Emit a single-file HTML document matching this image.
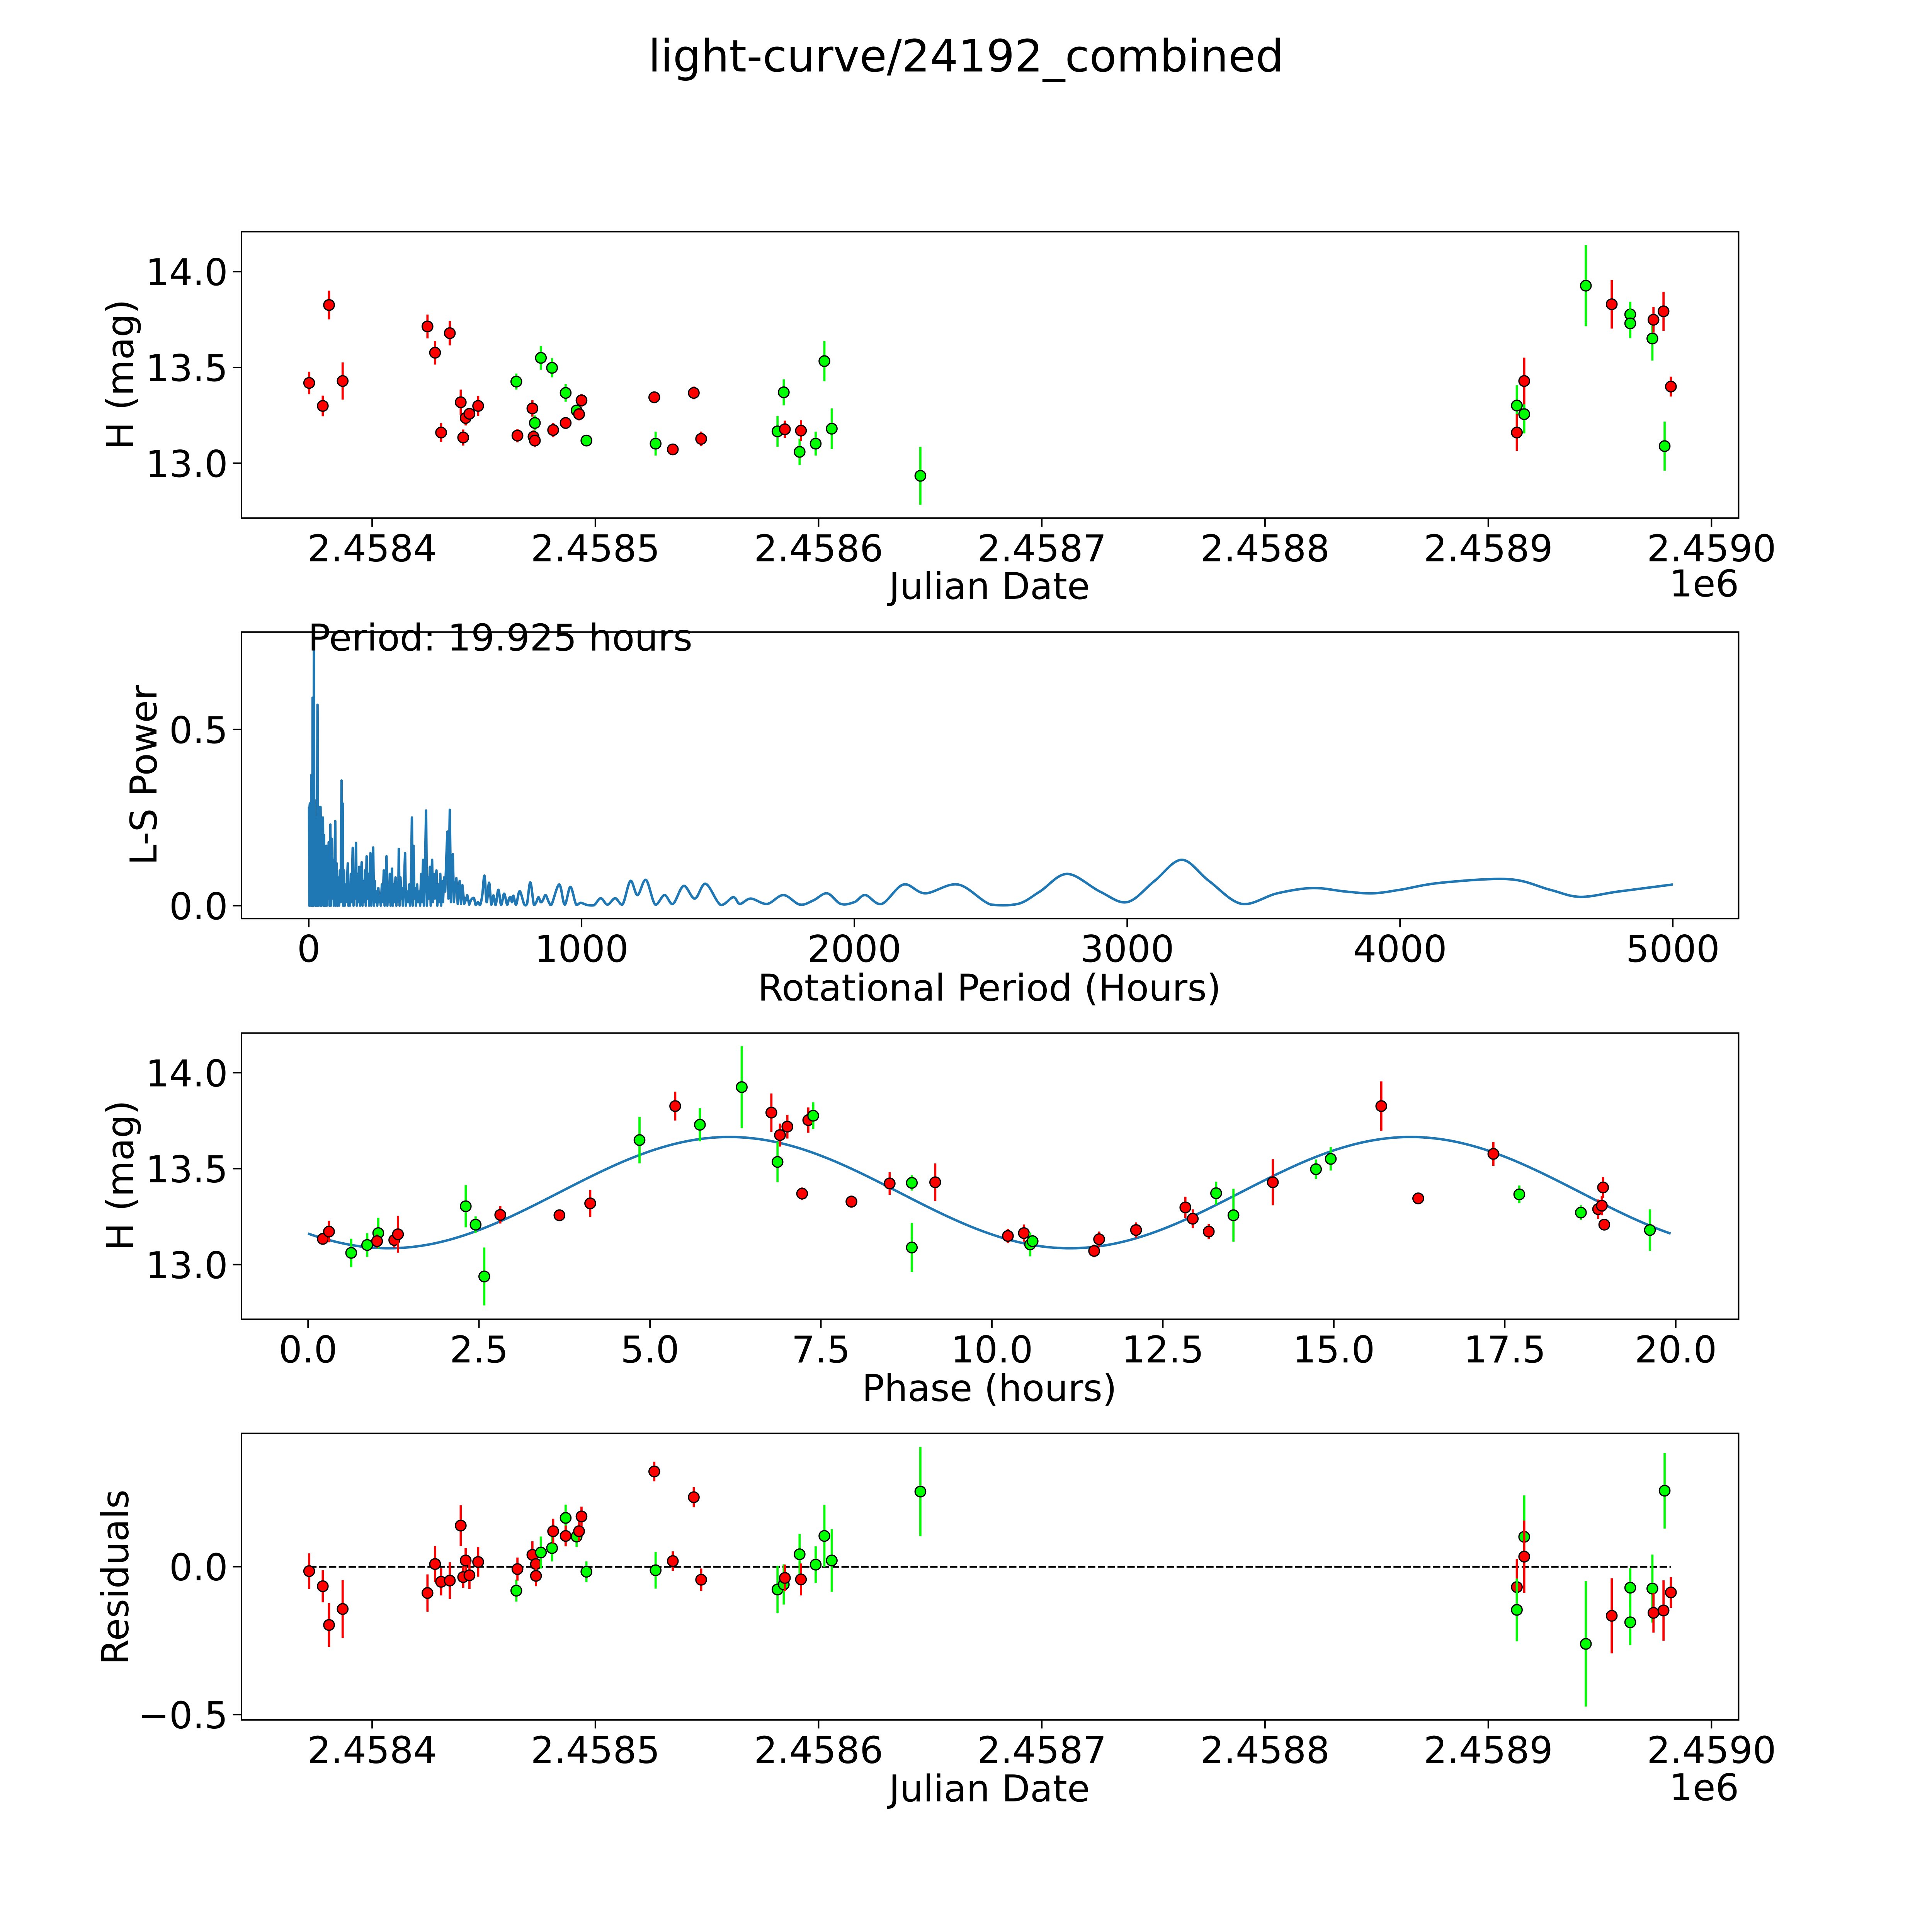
<!DOCTYPE html>
<html><head><meta charset="utf-8"><style>
html,body{margin:0;padding:0;background:#fff;overflow:hidden;width:5400px;height:5400px;}
svg{display:block;font-family:"DejaVu Sans","Liberation Sans",sans-serif;}
</style></head><body>
<svg id="fig" xmlns="http://www.w3.org/2000/svg" width="5400" height="5400" style="width:5400px;height:5400px" viewBox="0 0 1693.4 1693.4">
<rect x="0" y="0" width="1693.4" height="1693.4" fill="#fff"/>
<text x="784" y="58" font-size="36" text-anchor="middle">light-curve/24192_combined</text>
<g id="g1"></g>
<g id="g2"></g>
<g id="g3"></g>
<g id="g4"></g>
</svg>
<script>
// ---------- Panel 1: light curve (days since JD 2458400) ----------
const lcDays=[-28.2,-22.1,-19.3,-13.2,24.8,28.2,30.9,34.8,39.7,40.8,41.9,43.6,47.5,64.6,65.1,71.8,72.9,72.3,72.9,75.6,80.6,81.1,86.7,86.7,91.6,92.7,93.8,96.0,126.4,127.0,134.7,144.1,147.4,181.6,184.4,184.9,191.5,192.1,198.7,202.6,205.9,245.6,512.8,512.8,516.1,516.1,543.7,555.3,563.6,563.6,573.5,574.0,578.5,579.0,581.8];
const lcMag=[13.419,13.299,13.826,13.429,13.714,13.577,13.160,13.679,13.318,13.134,13.236,13.258,13.299,13.426,13.144,13.286,13.210,13.138,13.118,13.550,13.498,13.173,13.367,13.210,13.275,13.256,13.328,13.118,13.344,13.102,13.072,13.367,13.127,13.166,13.370,13.177,13.059,13.170,13.102,13.533,13.180,12.934,13.301,13.160,13.256,13.429,13.927,13.830,13.777,13.730,13.651,13.749,13.793,13.089,13.400];
const lcErr=[0.059,0.054,0.075,0.097,0.062,0.062,0.049,0.064,0.066,0.042,0.039,0.029,0.052,0.042,0.035,0.043,0.039,0.034,0.034,0.062,0.050,0.037,0.046,0.029,0.026,0.033,0.033,0.030,0.030,0.062,0.028,0.033,0.038,0.080,0.068,0.045,0.069,0.054,0.062,0.105,0.106,0.151,0.106,0.096,0.100,0.122,0.212,0.127,0.066,0.077,0.115,0.067,0.102,0.128,0.052];
const lcBand=["r","r","r","r","r","r","r","r","r","r","r","r","r","g","r","r","g","r","r","g","g","r","g","r","g","r","r","g","r","g","r","r","r","g","g","r","g","r","g","g","g","g","g","r","g","r","g","r","g","g","g","r","r","g","r"];
const jdTicks=[0,100,200,300,400,500,600];
const jdTickLabels=["2.4584","2.4585","2.4586","2.4587","2.4588","2.4589","2.4590"];
const magTicks=[14.0,13.5,13.0];
const magTickLabels=["14.0","13.5","13.0"];

// ---------- Panel 2: Lomb-Scargle periodogram ----------
const lsPeriod=[1,2,3,4,5,6,7,8,9,10,11,12,13,14,15,16,17,18,19,20,21,22,23,24,25,26,28,30,32,34,36,38,40,42,43,44,46,48,50,52,54,56,58,60,62,64,66,68,70,73,76,79,81,84,86,89,92,95,97,99,102,105,108,111,114,117,120,122,124,126,129,132,135,138,141,143,145,148,151,154,157,161,164,167,170,173,176,179,182,185,188,191,194,197,200,203,206,209,212,215,218,221,224,226,229,232,236,239,242,245,248,251,255,258,261,264,268,271,275,278,282,285,288,291,294,297,300,305,308,311,314,318,321,325,328,330,333,336,339,342,345,349,353,356,360,364,368,371,374,378,381,384,387,390,393,397,400,404,408,412,415,419,422,426,430,433,437,440,444,447,452,455,459,462,465,468,471,475,478,482,485,489,492,496,500,504,508,512,517,521,524,528,532,536,541,546,553,558,563,570,575,581,588,594,600,606,612,620,628,636,644,652,661,669,677,685,695,705,716,727,734,740,745,750,760,773,790,800,812,825,834,842,850,858,868,880,890,918,938,959,980,997,1020,1045,1070,1095,1123,1150,1179,1205,1236,1270,1304,1335,1374,1415,1455,1510,1556,1580,1620,1680,1740,1800,1850,1900,1950,2000,2040,2100,2180,2260,2380,2500,2600,2680,2780,2900,3000,3100,3200,3300,3420,3550,3680,3800,3900,4000,4150,4400,4550,4660,4800,5000];
const lsPower=[0.28,0,0.28,0.29,0.2,0.05,0.27,0,0.37,0.1,0,0.2,0,0.59,0.05,0.3,0,0.4,0.76,0.1,0.3,0.05,0.25,0,0.2,0,0.15,0,0.57,0,0.2,0.05,0.28,0,0.28,0.22,0,0.25,0.02,0.25,0,0.2,0,0.15,0,0.17,0,0.12,0.02,0.18,0,0.23,0,0.19,0.02,0.13,0,0.15,0.24,0,0.12,0,0.08,0,0.1,0.01,0.355,0.02,0.29,0,0.1,0,0.06,0.01,0.08,0.12,0,0.06,0,0.09,0.01,0.164,0,0.08,0.02,0.178,0,0.09,0.01,0.11,0,0.08,0.123,0,0.07,0.01,0.1,0,0.14,0.02,0.09,0,0.11,0.149,0,0.06,0.165,0,0.07,0.01,0.04,0,0.05,0.01,0.03,0,0.06,0.01,0.1,0,0.08,0.14,0,0.05,0.01,0.09,0,0.105,0,0.06,0.01,0.08,0,0.07,0.01,0.161,0,0.08,0.02,0.05,0,0.06,0.149,0,0.04,0.01,0.06,0,0.03,0.25,0,0.17,0.02,0.05,0,0.06,0.01,0.04,0,0.09,0.01,0.13,0,0.1,0.27,0,0.08,0.02,0.11,0,0.13,0.01,0.09,0.02,0.07,0.1,0,0.06,0.01,0.09,0,0.07,0.01,0.08,0.04,0.13,0.21,0.02,0.272,0.01,0.1,0.146,0.01,0.05,0.078,0.005,0.07,0.005,0.058,0.005,0.015,0.03,0.003,0.015,0.021,0.02,0.002,0.01,0.002,0.03,0.085,0.01,0.065,0.003,0.029,0.002,0.045,0.002,0.034,0.003,0.02,0.024,0.01,0.028,0.003,0.041,0.003,0.005,0.066,0.003,0.01,0.024,0.01,0.015,0.03,0.01,0.003,0.06,0.003,0.053,0.003,0.008,0.002,0.001,0.021,0.003,0.021,0.003,0.07,0.03,0.073,0.003,0.03,0.005,0.056,0.02,0.062,0.002,0.024,0.005,0.02,0.005,0.03,0.003,0.015,0.035,0.005,0.01,0.03,0.005,0.06,0.035,0.06,0.003,0.005,0.04,0.09,0.04,0.01,0.07,0.13,0.07,0.005,0.035,0.05,0.04,0.035,0.045,0.065,0.075,0.045,0.025,0.04,0.06];
const lsXTicks=[0,1000,2000,3000,4000,5000];
const lsYTicks=[0.0,0.5];
const lsYTickLabels=["0.0","0.5"];
const periodLabel="Period: 19.925 hours";

// ---------- Panel 3: phased light curve ----------
const phPhase=[0.216,0.306,0.631,0.865,1.027,1.009,1.261,1.315,2.306,2.45,2.577,2.811,3.676,4.126,4.847,5.369,5.730,6.342,6.775,6.865,6.901,7.009,7.225,7.315,7.387,7.946,8.505,8.829,8.829,9.171,10.234,10.468,10.559,10.595,11.495,11.568,12.108,12.829,12.937,13.171,13.279,13.532,14.108,14.739,14.955,15.694,16.234,17.333,17.712,18.613,18.865,18.919,18.937,18.955,19.622];
const phMag=[13.134,13.172,13.061,13.102,13.164,13.122,13.128,13.158,13.304,13.208,12.938,13.259,13.257,13.319,13.649,13.826,13.729,13.925,13.792,13.535,13.675,13.719,13.370,13.753,13.776,13.328,13.423,13.426,13.089,13.429,13.149,13.164,13.105,13.122,13.071,13.132,13.180,13.298,13.239,13.172,13.372,13.257,13.429,13.497,13.551,13.826,13.345,13.577,13.366,13.271,13.289,13.307,13.402,13.208,13.180];
const phErr=[0.030,0.056,0.074,0.062,0.080,0.035,0.040,0.096,0.110,0.043,0.151,0.045,0.030,0.070,0.121,0.075,0.086,0.214,0.100,0.105,0.060,0.062,0.032,0.066,0.070,0.032,0.059,0.040,0.128,0.098,0.037,0.045,0.062,0.030,0.033,0.040,0.040,0.056,0.049,0.040,0.060,0.138,0.120,0.051,0.061,0.129,0.030,0.062,0.046,0.038,0.050,0.050,0.054,0.030,0.108];
const phBand=["r","r","g","g","g","r","r","r","g","g","g","r","r","r","g","r","g","g","r","g","r","r","r","r","g","r","r","g","g","r","r","r","g","g","r","r","r","r","r","r","g","g","r","g","g","r","r","r","g","g","r","r","r","r","g"];
const fitParams=[13.375,0.29,6.16,9.9625]; // mean, amplitude, peak phase, half-period
const phTicks=[0,2.5,5,7.5,10,12.5,15,17.5,20];
const phTickLabels=["0.0","2.5","5.0","7.5","10.0","12.5","15.0","17.5","20.0"];

// ---------- Panel 4: residuals ----------
const rsDays=[-28.2,-22.1,-19.3,-13.2,24.8,28.2,30.9,34.8,39.7,40.8,41.9,43.6,47.5,64.6,65.1,71.8,73.4,73.4,75.6,80.6,81.1,86.7,86.7,91.6,92.7,93.8,96.0,126.4,127.0,134.7,144.1,147.4,181.6,184.4,184.9,191.5,192.1,198.7,202.6,205.9,245.6,512.8,512.8,516.1,516.1,543.7,555.3,563.6,563.6,573.5,574.0,578.5,579.0,581.8];
const rsVal=[-0.015,-0.066,-0.197,-0.143,-0.089,0.009,-0.051,-0.047,0.139,-0.035,0.021,-0.029,0.016,-0.081,-0.008,0.040,0.009,-0.031,0.048,0.063,0.120,0.165,0.104,0.102,0.120,0.170,-0.017,0.322,-0.012,0.019,0.235,-0.044,-0.077,-0.060,-0.038,0.042,-0.043,0.007,0.104,0.021,0.254,-0.069,-0.146,0.101,0.034,-0.261,-0.166,-0.071,-0.188,-0.074,-0.156,-0.148,0.257,-0.087];
const rsErr=[0.060,0.054,0.074,0.098,0.063,0.061,0.046,0.062,0.069,0.036,0.042,0.046,0.050,0.037,0.039,0.046,0.030,0.035,0.054,0.045,0.042,0.045,0.035,0.035,0.033,0.033,0.035,0.033,0.062,0.033,0.034,0.038,0.080,0.068,0.045,0.069,0.054,0.062,0.105,0.106,0.151,0.096,0.106,0.140,0.122,0.212,0.127,0.066,0.077,0.115,0.067,0.102,0.128,0.052];
const rsBand=["r","r","r","r","r","r","r","r","r","r","r","r","r","g","r","r","r","r","g","g","r","g","r","g","r","r","g","r","g","r","r","r","g","g","r","g","r","g","g","g","g","r","g","g","r","g","r","g","g","g","r","r","g","r"];
const rsTicks=[0.0,-0.5];
const rsTickLabels=["0.0","\u22120.5"];

// ---------- drawing ----------
const NS="http://www.w3.org/2000/svg";
const colorOf=b=>b==="r"?"#ff0000":"#00ff00";
function mk(parent,tag,attrs,text){const e=document.createElementNS(NS,tag);for(const k in attrs)e.setAttribute(k,attrs[k]);if(text!==undefined)e.textContent=text;parent.appendChild(e);return e;}

const P1={g:document.getElementById("g1"),L:196,R:1411,T:188,B:420.5};
const P2={g:document.getElementById("g2"),L:196,R:1411,T:513,B:745.5};
const P3={g:document.getElementById("g3"),L:196,R:1411,T:838.4,B:1070.7};
const P4={g:document.getElementById("g4"),L:196,R:1411,T:1163.3,B:1395.8};
const xJD=d=>302+d*1.8117;
const y1=m=>220.5+(14-m)*155.4;
const x2=p=>250.6+p*0.2214;
const y2=v=>735-v*286;
const x3=p=>250+p*55.5;
const y3=m=>870.6+(14-m)*155.7;
const y4=r=>1271.5-r*240;

function frame(P,name){
  const r=mk(P.g,"rect",{x:P.L,y:P.T,width:P.R-P.L,height:P.B-P.T,fill:"none",stroke:"#000","stroke-width":1.2});
  
  
}
function xticks(P,vals,labels,fx,name){
  vals.forEach((v,i)=>{const x=fx(v);
    const t=mk(P.g,"line",{x1:x,x2:x,y1:P.B,y2:P.B+7,stroke:"#000","stroke-width":1.2});
    
    
    const l=mk(P.g,"text",{x:x,y:P.B+35,"font-size":30,"text-anchor":"middle"},labels[i]);
    
    
  });
}
function yticks(P,vals,labels,fy,name){
  vals.forEach((v,i)=>{const y=fy(v);
    const t=mk(P.g,"line",{x1:P.L-7,x2:P.L,y1:y,y2:y,stroke:"#000","stroke-width":1.2});
    
    
    const l=mk(P.g,"text",{x:P.L-11,y:y+11,"font-size":30,"text-anchor":"end"},labels[i]);
    
    
  });
}
function label(P,txt,x,y,rot,name){
  const a={x:x,y:y,"font-size":30,"text-anchor":"middle"};
  if(rot)a.transform="rotate(-90 "+x+" "+y+")";
  const l=mk(P.g,"text",a,txt);
  
  
}
function points(P,xs,ys,es,bands,fx,fy,name,yscale){
  for(let i=0;i<xs.length;i++){
    const x=fx(xs[i]),y=fy(ys[i]),e=es[i]*yscale;
    const bar=mk(P.g,"line",{x1:x,x2:x,y1:y-e,y2:y+e,stroke:colorOf(bands[i]),"stroke-width":1.8});
    
    
    const c=mk(P.g,"circle",{cx:x,cy:y,r:4.3,fill:colorOf(bands[i]),stroke:"#000","stroke-width":1});
    
    
  }
}

// Panel 1
points(P1,lcDays,lcMag,lcErr,lcBand,xJD,y1,"lightcurve",155.4);
frame(P1,"lightcurve");
xticks(P1,jdTicks,jdTickLabels,xJD,"lightcurve");
yticks(P1,magTicks,magTickLabels,y1,"lightcurve");
label(P1,"Julian Date",803,486,false,"lightcurve-x-axis-title");
label(P1,"1e6",1383,484,false,"lightcurve-x-offset-label");
label(P1,"H (mag)",108,304,true,"lightcurve-y-axis-title");

// Panel 2 (linear in dense region, Catmull-Rom smoothing for long periods)
const px=lsPeriod.map(x2), py=lsPower.map(y2);
let d="M"+px[0].toFixed(2)+" "+py[0].toFixed(2);
for(let i=1;i<px.length;i++){
  if(lsPeriod[i]<600||i<2||i>px.length-2){d+="L"+px[i].toFixed(2)+" "+py[i].toFixed(2);continue;}
  const c1x=px[i-1]+(px[i]-px[i-2])/6, c1y=py[i-1]+(py[i]-py[i-2])/6;
  const c2x=px[i]-(px[i+1]-px[i-1])/6, c2y=Math.min(735,py[i]-(py[i+1]-py[i-1])/6);
  d+="C"+c1x.toFixed(2)+" "+Math.min(735,c1y).toFixed(2)+" "+c2x.toFixed(2)+" "+c2y.toFixed(2)+" "+px[i].toFixed(2)+" "+py[i].toFixed(2);
}
const ls=mk(P2.g,"path",{d:d,fill:"none",stroke:"#1f77b4","stroke-width":2,"stroke-linejoin":"round"});


frame(P2,"periodogram");
xticks(P2,lsXTicks,lsXTicks.map(String),x2,"periodogram");
yticks(P2,lsYTicks,lsYTickLabels,y2,"periodogram");
label(P2,"Rotational Period (Hours)",803,812,false,"periodogram-x-axis-title");
label(P2,"L-S Power",127,629,true,"periodogram-y-axis-title");
const pl=mk(P2.g,"text",{x:250,y:528,"font-size":30},periodLabel);



// Panel 3
let fd="";const N=300;
for(let i=0;i<=N;i++){const p=19.925*i/N;const m=fitParams[0]+fitParams[1]*Math.cos(2*Math.PI*(p-fitParams[2])/fitParams[3]);fd+=(i?"L":"M")+x3(p).toFixed(2)+" "+y3(m).toFixed(2);}
const fit=mk(P3.g,"path",{d:fd,fill:"none",stroke:"#1f77b4","stroke-width":2});


points(P3,phPhase,phMag,phErr,phBand,x3,y3,"phase",155.7);
frame(P3,"phase");
xticks(P3,phTicks,phTickLabels,x3,"phase");
yticks(P3,magTicks,magTickLabels,y3,"phase");
label(P3,"Phase (hours)",803,1137,false,"phase-x-axis-title");
label(P3,"H (mag)",108,954,true,"phase-y-axis-title");

// Panel 4
const zl=mk(P4.g,"line",{x1:xJD(-28.2),x2:xJD(581.8),y1:y4(0),y2:y4(0),stroke:"#000","stroke-width":1.6,"stroke-dasharray":"6 2"});


points(P4,rsDays,rsVal,rsErr,rsBand,xJD,y4,"residual",240);
frame(P4,"residuals");
xticks(P4,jdTicks,jdTickLabels,xJD,"residuals");
yticks(P4,rsTicks,rsTickLabels,y4,"residuals");
label(P4,"Julian Date",803,1462,false,"residuals-x-axis-title");
label(P4,"1e6",1383,1461,false,"residuals-x-offset-label");
label(P4,"Residuals",104,1280,true,"residuals-y-axis-title");
</script>
</body></html>
